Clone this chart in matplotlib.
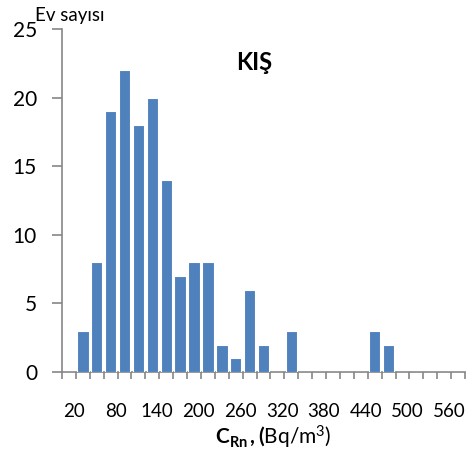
import matplotlib
matplotlib.use("Agg")
import matplotlib.pyplot as plt
import numpy as np

plt.rcParams["font.family"] = ["Lato", "DejaVu Sans"]
plt.rcParams["mathtext.fontset"] = "custom"
plt.rcParams["mathtext.rm"] = "Lato"
plt.rcParams["mathtext.bf"] = "Lato:bold"
plt.rcParams["mathtext.it"] = "Lato:italic"

# radon concentration classes (Bq/m3) and number of houses
categories = list(range(20, 600, 20))
counts = [0, 3, 8, 19, 22, 18, 20, 14, 7, 8, 8, 2, 1, 6, 2, 0,
          3, 0, 0, 0, 0, 0, 3, 2, 0, 0, 0, 0, 0]
tick_labels = [20, 80, 140, 200, 260, 320, 380, 440, 500, 560]

fig = plt.figure(figsize=(4.69, 4.53), dpi=100)
ax = fig.add_axes([62 / 469, 1 - 372 / 453, 403 / 469, 343 / 453])

x = np.arange(len(categories))
ax.bar(x, counts, width=0.82, color="#4F81BD", edgecolor="white",
       linewidth=0.8, zorder=3)

ax.set_xlim(-0.5, len(categories) - 0.5)
ax.set_ylim(0, 25)
ax.set_yticks([0, 5, 10, 15, 20, 25])

# labels sit a little right of the category centres, as in the original
label_pos = [categories.index(v) + 0.35 for v in tick_labels]
ax.set_xticks(label_pos)
ax.set_xticklabels([str(v) for v in tick_labels])
ax.set_xticks(np.arange(len(categories) + 1) - 0.5, minor=True)
ax.tick_params(axis="x", which="major", length=0, pad=22, labelsize=13.5)
ax.tick_params(axis="x", which="minor", length=5, width=1.2,
               color="#868686", direction="out")
ax.tick_params(axis="y", length=7, width=1.2, color="#868686",
               labelsize=15, pad=11)

for s in ["top", "right"]:
    ax.spines[s].set_visible(False)
for s in ["left", "bottom"]:
    ax.spines[s].set_color("#868686")
    ax.spines[s].set_linewidth(1.2)

fig.text(35 / 469, 1 - 16 / 453, "Ev sayısı", fontsize=13.5, va="center",
         ha="left")
fig.text(254 / 469, 1 - 62 / 453, "KIŞ", fontsize=17, fontweight="bold",
         ha="center", va="center")
fig.text(273 / 469, 1 - 437 / 453,
         r"$\mathbf{C_{Rn}\,,(}$Bq/m$^{3}$)", fontsize=15,
         ha="center", va="center")

fig.savefig("out.png", dpi=100)
